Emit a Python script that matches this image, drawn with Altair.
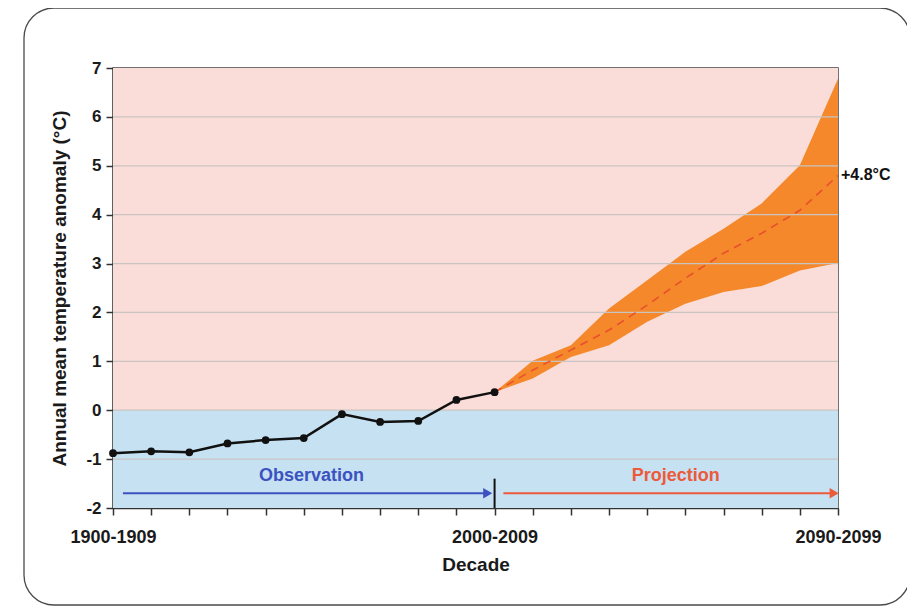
import altair as alt
import pandas as pd

# ---- data ----
obs_decades = [1900, 1910, 1920, 1930, 1940, 1950, 1960, 1970, 1980, 1990, 2000]
obs_values = [-0.88, -0.84, -0.86, -0.68, -0.61, -0.57, -0.08, -0.24, -0.22, 0.21, 0.37]

proj_decades = [2000, 2010, 2020, 2030, 2040, 2050, 2060, 2070, 2080, 2090]
proj_mean = [0.37, 0.82, 1.23, 1.64, 2.15, 2.70, 3.21, 3.62, 4.09, 4.80]
proj_low = [0.37, 0.65, 1.09, 1.33, 1.81, 2.18, 2.42, 2.54, 2.86, 3.01]
proj_high = [0.37, 1.01, 1.33, 2.08, 2.66, 3.24, 3.71, 4.23, 5.01, 6.78]

x_ticks = list(range(1900, 2091, 10))
y_ticks = list(range(-2, 8))
x_labels = {1900: "1900-1909", 2000: "2000-2009", 2090: "2090-2099"}

FONT = "Liberation Sans"
OBS_COLOR = "#3B52C0"
PROJ_COLOR = "#EC5A3A"

obs = pd.DataFrame({"decade": obs_decades, "value": obs_values})
proj = pd.DataFrame({"decade": proj_decades, "mean": proj_mean, "low": proj_low, "high": proj_high})
bands = pd.DataFrame({"x": [1900, 1900], "x2": [2090, 2090], "y": [0, -2], "y2": [7, 0],
                      "fill": ["#FADDD8", "#C6E1F2"]})
grid = pd.DataFrame({"y": [v for v in y_ticks if v not in (-2, 7)]})

xscale = alt.Scale(domain=[1900, 2090], nice=False, zero=False)
yscale = alt.Scale(domain=[-2, 7], nice=False, zero=False)

label_expr = " : ".join(f"datum.value == {k} ? '{v}'" for k, v in x_labels.items()) + " : ''"

xaxis = alt.Axis(values=x_ticks, labelExpr=label_expr, title="Decade", grid=False,
                 tickSize=7, tickColor="#333", domainColor="#333", domainWidth=1.5, tickWidth=1.5,
                 labelFont=FONT, labelFontSize=18, labelFontWeight="bold", labelColor="#1a1a1a",
                 labelPadding=13, labelOverlap=False, labelFlush=False,
                 titleFont=FONT, titleFontSize=19, titleFontWeight="bold", titleColor="#1a1a1a",
                 titlePadding=9)
yaxis = alt.Axis(values=y_ticks, labelExpr="'' + datum.value",
                 title="Annual mean temperature anomaly (°C)", grid=False,
                 tickSize=7, tickColor="#333", domainColor="#333", domainWidth=1.5, tickWidth=1.5,
                 labelFont=FONT, labelFontSize=17, labelFontWeight="bold", labelColor="#1a1a1a",
                 labelPadding=5,
                 titleFont=FONT, titleFontSize=19, titleFontWeight="bold", titleColor="#1a1a1a",
                 titlePadding=16)


def X(field):
    return alt.X(field, scale=xscale, axis=xaxis)


def Y(field):
    return alt.Y(field, scale=yscale, axis=yaxis)


bg = alt.Chart(bands).mark_rect().encode(
    x=X("x:Q"), x2="x2:Q", y=Y("y:Q"), y2="y2:Q",
    color=alt.Color("fill:N", scale=None),
)

area = alt.Chart(proj).mark_area(color="#F4882A", opacity=1).encode(
    x=X("decade:Q"), y=Y("low:Q"), y2="high:Q")

gridlines = alt.Chart(grid).mark_rule(color="#C9C3C1", strokeWidth=1.2).encode(y=Y("y:Q"))

dashed = alt.Chart(proj).mark_line(color="#E8502E", strokeDash=[8, 6], strokeWidth=1.6).encode(
    x=X("decade:Q"), y=Y("mean:Q"))

obs_line = alt.Chart(obs).mark_line(color="#111", strokeWidth=2.5).encode(
    x=X("decade:Q"), y=Y("value:Q"))
obs_pts = alt.Chart(obs).mark_point(filled=True, color="#111", size=60, opacity=1).encode(
    x=X("decade:Q"), y=Y("value:Q"))

# arrows and markers
arrows = pd.DataFrame({"x": [1902.6, 2002.3], "x2": [1997.5, 2088.5], "y": [-1.7, -1.7],
                       "col": [OBS_COLOR, PROJ_COLOR]})
heads = pd.DataFrame({"x": [1998.2, 2089.0], "y": [-1.7, -1.7], "col": [OBS_COLOR, PROJ_COLOR]})
arrow_lines = alt.Chart(arrows).mark_rule(strokeWidth=2).encode(
    x=X("x:Q"), x2="x2:Q", y=Y("y:Q"), color=alt.Color("col:N", scale=None))
arrow_heads = alt.Chart(heads).mark_point(shape="triangle-right", filled=True, size=110, opacity=1).encode(
    x=X("x:Q"), y=Y("y:Q"), color=alt.Color("col:N", scale=None))

divider = pd.DataFrame({"x": [2000], "y": [-1.4], "y2": [-2]})
divider_rule = alt.Chart(divider).mark_rule(color="#111", strokeWidth=2).encode(
    x=X("x:Q"), y=Y("y:Q"), y2="y2:Q")

labels = pd.DataFrame({"x": [1952, 2047.5], "y": [-1.35, -1.35], "text": ["Observation", "Projection"],
                       "col": [OBS_COLOR, PROJ_COLOR]})
label_text = alt.Chart(labels).mark_text(font=FONT, fontSize=18, fontWeight="bold").encode(
    x=X("x:Q"), y=Y("y:Q"), text="text:N", color=alt.Color("col:N", scale=None))

end_label = pd.DataFrame({"x": [2090], "y": [4.8], "text": ["+4.8°C"]})
end_text = alt.Chart(end_label).mark_text(font=FONT, fontSize=16, fontWeight="bold", align="left",
                                          dx=3, dy=-1, color="#111").encode(
    x=X("x:Q"), y=Y("y:Q"), text="text:N")

# decorative rounded frame around the figure
frame = alt.Chart(pd.DataFrame({"a": [0]})).mark_rect(
    fill=None, stroke="#4a4a4a", strokeWidth=1.3, cornerRadius=30, clip=False).encode(
    x=alt.value(-89), x2=alt.value(797), y=alt.value(-60), y2=alt.value(537))

chart = alt.layer(bg, area, gridlines, dashed, obs_line, obs_pts, arrow_lines, arrow_heads,
                  divider_rule, label_text, end_text, frame).properties(
    width=725, height=440,
    autosize=alt.AutoSizeParams(type="none"),
    padding={"left": 105, "top": 60, "right": 69, "bottom": 98},
    background="white",
).configure_view(stroke="#444", strokeWidth=1.5)

chart.save("out.html", embed_options={"renderer": "svg", "actions": False})
